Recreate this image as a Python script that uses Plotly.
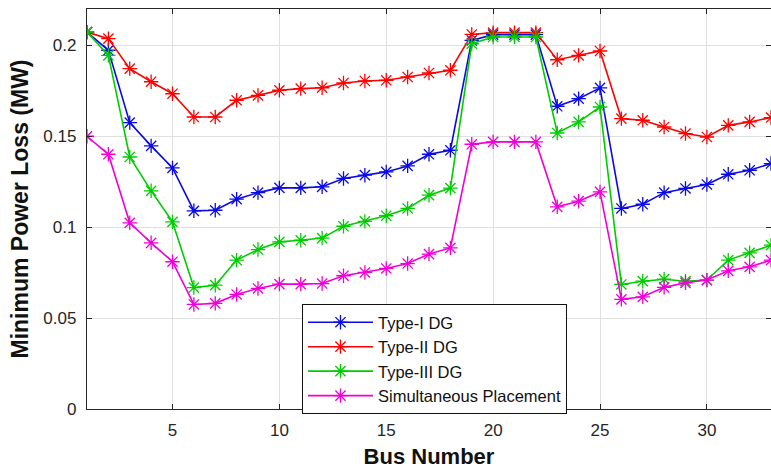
import plotly.graph_objects as go

bus = list(range(1, 34))

type1 = [0.2073, 0.1973, 0.1575, 0.1447, 0.1326, 0.1090, 0.1093, 0.1154, 0.1190, 0.1216,
         0.1216, 0.1222, 0.1268, 0.1286, 0.1304, 0.1337, 0.1401, 0.1423, 0.2027, 0.2059,
         0.2059, 0.2059, 0.1665, 0.1707, 0.1766, 0.1103, 0.1126, 0.1190, 0.1213, 0.1235,
         0.1291, 0.1313, 0.1350]
type2 = [0.2073, 0.2037, 0.1872, 0.1800, 0.1734, 0.1606, 0.1606, 0.1698, 0.1725, 0.1753,
         0.1762, 0.1767, 0.1793, 0.1804, 0.1808, 0.1826, 0.1848, 0.1863, 0.2060, 0.2070,
         0.2070, 0.2070, 0.1921, 0.1945, 0.1969, 0.1597, 0.1588, 0.1551, 0.1515, 0.1496,
         0.1560, 0.1579, 0.1603]
type3 = [0.2073, 0.1945, 0.1386, 0.1200, 0.1029, 0.0668, 0.0681, 0.0819, 0.0877, 0.0919,
         0.0928, 0.0940, 0.1005, 0.1032, 0.1063, 0.1103, 0.1176, 0.1215, 0.2009, 0.2046,
         0.2046, 0.2046, 0.1518, 0.1579, 0.1661, 0.0685, 0.0703, 0.0714, 0.0703, 0.0709,
         0.0819, 0.0859, 0.0901]
simult = [0.1500, 0.1401, 0.1024, 0.0914, 0.0810, 0.0575, 0.0581, 0.0630, 0.0663, 0.0687,
          0.0687, 0.0690, 0.0733, 0.0751, 0.0773, 0.0800, 0.0852, 0.0886, 0.1456, 0.1469,
          0.1469, 0.1469, 0.1112, 0.1143, 0.1194, 0.0603, 0.0617, 0.0669, 0.0694, 0.0709,
          0.0760, 0.0782, 0.0819]

names = ["Type-I DG", "Type-II DG", "Type-III DG", "Simultaneous Placement"]
colors = ["#0a0ae6", "#ff0000", "#00cc00", "#f000d8"]
series = [type1, type2, type3, simult]

x_ticks = [5, 10, 15, 20, 25, 30]
y_ticks = [0, 0.05, 0.1, 0.15, 0.2]
y_tick_text = ["0", "0.05", "0.1", "0.15", "0.2"]

FONT = "Liberation Sans, Arial, sans-serif"

fig = go.Figure()
for name, col, ys in zip(names, colors, series):
    fig.add_trace(go.Scatter(
        x=bus, y=ys, name=name, mode="lines+markers",
        line=dict(color=col, width=1.6),
        marker=dict(symbol="asterisk-open", size=12, line=dict(color=col, width=1.3)),
    ))

axis_common = dict(
    showline=True, linecolor="#262626", linewidth=1.3, mirror="ticks",
    ticks="inside", ticklen=5, tickwidth=1, tickcolor="#262626",
    showgrid=True, gridcolor="#e0e0e0", gridwidth=1, zeroline=False,
    tickfont=dict(family=FONT, size=17, color="#262626"),
)

fig.update_layout(
    width=771, height=471,
    margin=dict(l=87, r=0, t=9, b=62),
    paper_bgcolor="white", plot_bgcolor="white",
    xaxis=dict(range=[1, 33], tickvals=x_ticks, ticklabelstandoff=5,
               title=dict(text="<b>Bus Number</b>", standoff=10,
                          font=dict(family=FONT, size=22, color="#111111")),
               **axis_common),
    yaxis=dict(range=[0, 0.22], tickvals=y_ticks, ticktext=y_tick_text, ticklabelstandoff=6,
               title=dict(text="<b>Minimum Power Loss (MW)</b>", standoff=8,
                          font=dict(family=FONT, size=23, color="#111111")),
               **axis_common),
    legend=dict(x=0.3143, y=0.2625, xanchor="left", yanchor="top",
                bgcolor="white", bordercolor="#111111", borderwidth=1,
                font=dict(family=FONT, size=16.5, color="#111111"),
                tracegroupgap=0, itemwidth=65),
    showlegend=True,
)

fig.write_html("out.html")
